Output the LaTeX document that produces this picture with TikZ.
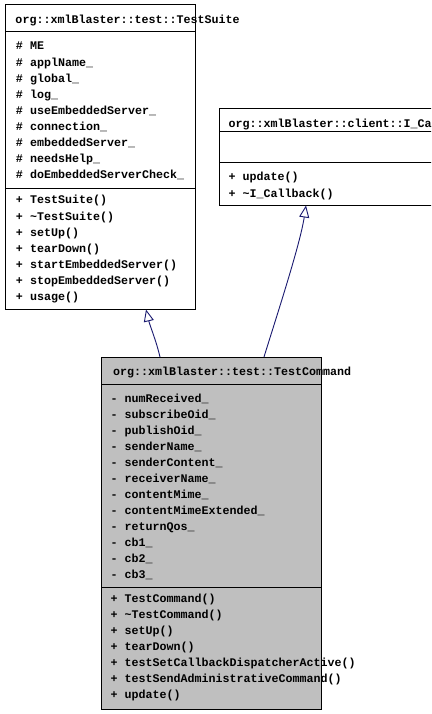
\documentclass[tikz,border=0pt]{standalone}
\usepackage{fontspec}
\newfontfamily\umlfont{Liberation Mono}
\usetikzlibrary{arrows.meta}
\definecolor{edgeblue}{HTML}{191970}
\definecolor{boxgray}{HTML}{BFBFBF}
\begin{document}
\begin{tikzpicture}[x=1pt,y=-1pt,
  umlbox/.style={draw=black, line width=1pt, anchor=north west, inner sep=0pt, outer sep=0pt},
  sepline/.style={draw=black, line width=1pt},
  txt/.style={anchor=base west, inner sep=0pt, outer sep=0pt, font=\umlfont\bfseries\fontsize{11.67}{14}\selectfont},
  inherit/.style={draw=edgeblue, line width=0.9pt, -{Triangle[length=12pt,width=10pt,fill=white]}}]
\useasboundingbox (0,0) rectangle (431,714);
\clip (0,0) rectangle (431,714);
\fill[white] (0,0) rectangle (431,714);

% TestSuite
\node[umlbox, fill=white, minimum width=190pt, minimum height=304pt] (ts) at (5,5) {};
\draw[sepline] (5,32) -- (195,32);
\draw[sepline] (5,188) -- (195,188);
\node[txt] (tstitle) at (15.5,24) {org::xmlBlaster::test::TestSuite};
\foreach \t [count=\i from 0] in {ME,applName\_,global\_,log\_,useEmbeddedServer\_,connection\_,embeddedServer\_,needsHelp\_,doEmbeddedServerCheck\_}
  \node[txt] (tsa\i) at (16,{50+16.1*\i}) {\# \t};
\foreach \t [count=\i from 0] in {TestSuite(),\textasciitilde TestSuite(),setUp(),tearDown(),startEmbeddedServer(),stopEmbeddedServer(),usage()}
  \node[txt] (tsm\i) at (16,{204+16*\i}) {+ \t};

% I_Callback
\node[umlbox, fill=white, minimum width=230pt, minimum height=96pt] (cb) at (219,109) {};
\draw[sepline] (219,132) -- (449,132);
\draw[sepline] (219,163) -- (449,163);
\node[txt] (cbtitle) at (228.5,127.5) {org::xmlBlaster::client::I\_Callback};
\node[txt] (cbm0) at (228.5,181) {+ update()};
\node[txt] (cbm1) at (228.5,197) {+ \textasciitilde I\_Callback()};

% TestCommand
\node[umlbox, fill=boxgray, minimum width=220pt, minimum height=352pt] (tc) at (101,357) {};
\draw[sepline] (101,384) -- (321,384);
\draw[sepline] (101,587) -- (321,587);
\node[txt] (tctitle) at (113,375.5) {org::xmlBlaster::test::TestCommand};
\foreach \t [count=\i from 0] in {numReceived\_,subscribeOid\_,publishOid\_,senderName\_,senderContent\_,receiverName\_,contentMime\_,contentMimeExtended\_,returnQos\_,cb1\_,cb2\_,cb3\_}
  \node[txt] (tca\i) at (110.5,{402.7+16*\i}) {- \t};
\foreach \t [count=\i from 0] in {TestCommand(),\textasciitilde TestCommand(),setUp(),tearDown(),testSetCallbackDispatcherActive(),testSendAdministrativeCommand(),update()}
  \node[txt] (tcm\i) at (110.5,{602.7+16*\i}) {+ \t};

% connectors
\coordinate (tcL) at (160,357);
\coordinate (tsB) at (146,309.5);
\coordinate (tcR) at (264,357);
\coordinate (cbB) at (306,205.5);
\draw[inherit] (tcL) .. controls (156,340) and (150,326) .. (tsB);
\draw[inherit] (tcR) .. controls (276,318) and (300,245) .. (cbB);
\end{tikzpicture}
\end{document}
